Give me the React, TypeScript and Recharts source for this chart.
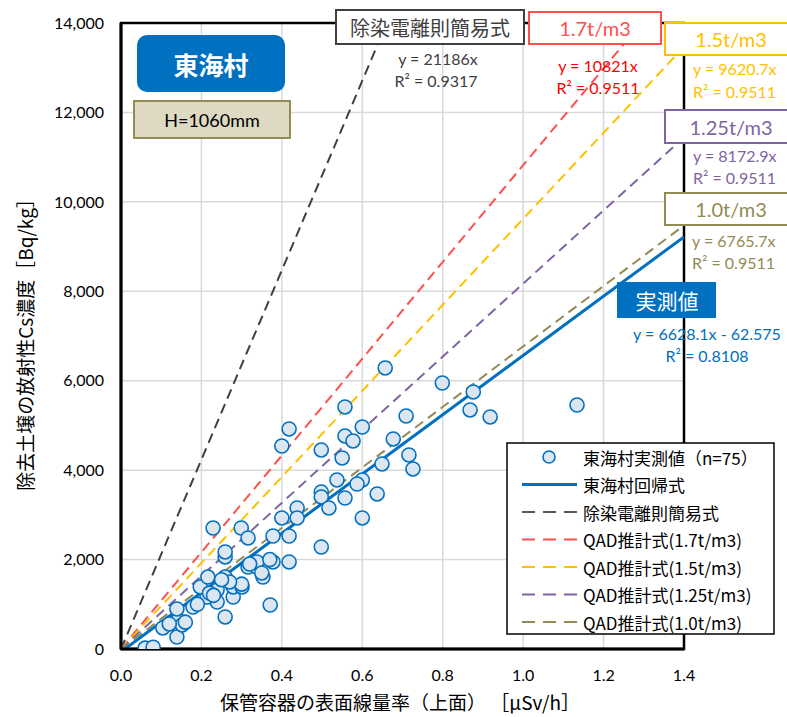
import React from 'react';
import { ComposedChart, Scatter, Line, XAxis, YAxis, CartesianGrid, ReferenceArea } from 'recharts';

const xTicks = [0, 0.2, 0.4, 0.6, 0.8, 1.0, 1.2, 1.4];
const yTicks = [0, 2000, 4000, 6000, 8000, 10000, 12000, 14000];

// 東海村実測値 (x: µSv/h, y: Bq/kg)
const measuredX = [
  0.06, 0.08, 0.104, 0.139, 0.142, 0.152, 0.139, 0.179, 0.259, 0.239,
  0.279, 0.239, 0.214, 0.197, 0.216, 0.259, 0.279, 0.301, 0.316, 0.338,
  0.353, 0.371, 0.338, 0.378, 0.418, 0.259, 0.259, 0.229, 0.299, 0.316,
  0.378, 0.418, 0.4, 0.438, 0.438, 0.498, 0.4, 0.418, 0.498, 0.498,
  0.498, 0.517, 0.537, 0.557, 0.557, 0.557, 0.55, 0.657, 0.799, 0.876,
  0.868, 0.918, 1.134, 0.709, 0.6, 0.577, 0.677, 0.716, 0.726, 0.649,
  0.6, 0.587, 0.637, 0.6, 0.16, 0.22, 0.3, 0.35, 0.27, 0.19,
  0.23, 0.32, 0.12, 0.25, 0.37,
];
const measuredY = [
  20, 40, 470, 268, 649, 537, 895, 939, 716, 1051,
  1163, 1320, 1163, 1387, 1610, 1610, 1387, 1387, 1834, 1834,
  1610, 984, 1946, 1946, 1946, 2058, 2170, 2706, 2706, 2483,
  2527, 2527, 2930, 3154, 2930, 4451, 4540, 4921, 2281, 3512,
  3400, 3154, 3780, 5413, 4764, 3377, 4272, 6285, 5949, 5748,
  5346, 5189, 5457, 5211, 4965, 4652, 4697, 4339, 4026, 4138,
  3780, 3690, 3467, 2930, 600, 1250, 1450, 1700, 1500, 1000,
  1200, 1900, 560, 1550, 2000,
];
const measuredPoints = measuredX.map((x, i) => ({ x, y: measuredY[i] }));

// Trend / estimation lines (end points)
const regressionLine = [{ x: 0.0094, y: 0 }, { x: 1.4, y: 9217 }];
const denriLine = [{ x: 0, y: 0 }, { x: 0.661, y: 14000 }];
const qad17Line = [{ x: 0, y: 0 }, { x: 1.294, y: 14000 }];
const qad15Line = [{ x: 0, y: 0 }, { x: 1.4, y: 13469 }];
const qad125Line = [{ x: 0, y: 0 }, { x: 1.4, y: 11442 }];
const qad10Line = [{ x: 0, y: 0 }, { x: 1.4, y: 9472 }];

const BLUE = '#0070c0';
const GRAY = '#404040';
const RED = '#ff5050';
const ORANGE = '#ffc000';
const PURPLE = '#8064a2';
const OLIVE = '#948a54';

const legendItems = [
  { label: '東海村実測値（n=75）', kind: 'marker', color: BLUE },
  { label: '東海村回帰式', kind: 'solid', color: BLUE },
  { label: '除染電離則簡易式', kind: 'dash', color: '#595959' },
  { label: 'QAD推計式(1.7t/m3)', kind: 'dash', color: RED },
  { label: 'QAD推計式(1.5t/m3)', kind: 'dash', color: ORANGE },
  { label: 'QAD推計式(1.25t/m3)', kind: 'dash', color: PURPLE },
  { label: 'QAD推計式(1.0t/m3)', kind: 'dash', color: OLIVE },
];

const NUM_FONT = 'Lato, "Liberation Sans", sans-serif';
const JP_FONT = '"Noto Sans CJK JP", "Noto Sans", sans-serif';

const Dot = (props: any) => {
  const { cx, cy } = props;
  if (cx == null || cy == null) return null;
  return <circle cx={cx} cy={cy} r={7} fill="#dce6f2" stroke={BLUE} strokeWidth={1.6} />;
};

const Overlay = () => (
  <svg width={787} height={717} style={{ position: 'absolute', left: 0, top: 0, pointerEvents: 'none' }}>
    {/* axis titles */}
    <text x={400} y={701} textAnchor="middle" dominantBaseline="central" fontFamily={JP_FONT} fontSize={19} fill="#000">
      保管容器の表面線量率（上面） ［µSv/h］
    </text>
    <text x={24} y={340} textAnchor="middle" dominantBaseline="central" fontFamily={JP_FONT} fontSize={19} fill="#000" transform="rotate(-90 24 340)">
      除去土壌の放射性Cs濃度［Bq/kg］
    </text>

    {/* 東海村 */}
    <rect x={137} y={35} width={148} height={57} rx={10} fill={BLUE} />
    <text x={211} y={64} textAnchor="middle" dominantBaseline="central" fontFamily={JP_FONT} fontSize={25} fontWeight="bold" fill="#fff">東海村</text>
    <rect x={134} y={101} width={156} height={37} fill="#ddd9c3" stroke={OLIVE} strokeWidth={2} />
    <text x={212} y={120} textAnchor="middle" dominantBaseline="central" fontFamily={NUM_FONT} fontSize={18} fill="#000">H=1060mm</text>

    {/* 除染電離則簡易式 */}
    <rect x={336} y={10} width={188} height={34} fill="#fff" stroke={GRAY} strokeWidth={2} />
    <text x={430} y={27} textAnchor="middle" dominantBaseline="central" fontFamily={JP_FONT} fontSize={20} fill={GRAY}>除染電離則簡易式</text>
    <text x={438} y={58} textAnchor="middle" dominantBaseline="central" fontFamily={NUM_FONT} fontSize={16} fill={GRAY}>y = 21186x</text>
    <text x={436} y={80} textAnchor="middle" dominantBaseline="central" fontFamily={NUM_FONT} fontSize={16} fill={GRAY}>R² = 0.9317</text>

    {/* 1.7 */}
    <rect x={529} y={12} width={132} height={32} fill="#fff" stroke={RED} strokeWidth={2} />
    <text x={595} y={28} textAnchor="middle" dominantBaseline="central" fontFamily={NUM_FONT} fontSize={20} fill={RED}>1.7t/m3</text>
    <text x={598} y={65} textAnchor="middle" dominantBaseline="central" fontFamily={NUM_FONT} fontSize={16} fill="#ff0000">y = 10821x</text>
    <text x={598} y={87} textAnchor="middle" dominantBaseline="central" fontFamily={NUM_FONT} fontSize={16} fill="#ff0000">R² = 0.9511</text>

    {/* 1.5 */}
    <rect x={665} y={23} width={140} height={32} fill="#fff" stroke={ORANGE} strokeWidth={2} />
    <text x={731} y={39} textAnchor="middle" dominantBaseline="central" fontFamily={NUM_FONT} fontSize={20} fill={ORANGE}>1.5t/m3</text>
    <text x={693} y={68} dominantBaseline="central" fontFamily={NUM_FONT} fontSize={16} fill={ORANGE}>y = 9620.7x</text>
    <text x={693} y={91} dominantBaseline="central" fontFamily={NUM_FONT} fontSize={16} fill={ORANGE}>R² = 0.9511</text>

    {/* 1.25 */}
    <rect x={665} y={110} width={140} height={33} fill="#fff" stroke={PURPLE} strokeWidth={2} />
    <text x={731} y={127} textAnchor="middle" dominantBaseline="central" fontFamily={NUM_FONT} fontSize={20} fill={PURPLE}>1.25t/m3</text>
    <text x={693} y={155} dominantBaseline="central" fontFamily={NUM_FONT} fontSize={16} fill={PURPLE}>y = 8172.9x</text>
    <text x={693} y={177} dominantBaseline="central" fontFamily={NUM_FONT} fontSize={16} fill={PURPLE}>R² = 0.9511</text>

    {/* 1.0 */}
    <rect x={665} y={193} width={140} height={32} fill="#fff" stroke={OLIVE} strokeWidth={2} />
    <text x={731} y={209} textAnchor="middle" dominantBaseline="central" fontFamily={NUM_FONT} fontSize={20} fill={OLIVE}>1.0t/m3</text>
    <text x={692} y={240} dominantBaseline="central" fontFamily={NUM_FONT} fontSize={16} fill={OLIVE}>y = 6765.7x</text>
    <text x={692} y={262} dominantBaseline="central" fontFamily={NUM_FONT} fontSize={16} fill={OLIVE}>R² = 0.9511</text>

    {/* 実測値 */}
    <rect x={617} y={282} width={99} height={36} fill={BLUE} />
    <text x={667} y={300} textAnchor="middle" dominantBaseline="central" fontFamily={JP_FONT} fontSize={21} fill="#fff">実測値</text>
    <text x={707} y={333} textAnchor="middle" dominantBaseline="central" fontFamily={NUM_FONT} fontSize={16} fill={BLUE}>y = 6628.1x - 62.575</text>
    <text x={707} y={355} textAnchor="middle" dominantBaseline="central" fontFamily={NUM_FONT} fontSize={16} fill={BLUE}>R² = 0.8108</text>

    {/* legend */}
    <rect x={507} y={443} width={267} height={191} fill="#fff" stroke="#000" strokeWidth={1.5} />
    {legendItems.map((it, i) => {
      const cy = 457 + i * 27.5;
      return (
        <g key={it.label}>
          {it.kind === 'marker' && <circle cx={549} cy={cy} r={6} fill="#dce6f2" stroke={it.color} strokeWidth={1.6} />}
          {it.kind === 'solid' && <line x1={522} x2={577} y1={cy} y2={cy} stroke={it.color} strokeWidth={3} />}
          {it.kind === 'dash' && <line x1={522} x2={577} y1={cy} y2={cy} stroke={it.color} strokeWidth={2} strokeDasharray="13 8" />}
          <text x={583} y={cy} dominantBaseline="central" fontFamily={JP_FONT} fontSize={17} fill="#000">{it.label}</text>
        </g>
      );
    })}
  </svg>
);

export default function App() {
  return (
    <div style={{ position: 'absolute', left: 0, top: 0, width: 787, height: 717, background: '#fff' }}>
      <ComposedChart width={787} height={717} margin={{ top: 23, right: 103, bottom: 0, left: 0 }}>
        <CartesianGrid stroke="#d9d9d9" strokeWidth={1.5} />
        <XAxis
          type="number"
          dataKey="x"
          domain={[0, 1.4]}
          ticks={xTicks}
          height={68}
          tickFormatter={(v: number) => v.toFixed(1)}
          tick={{ fill: '#000', fontSize: 16, fontFamily: NUM_FONT }}
          tickLine={false}
          tickSize={8}
          tickMargin={13}
          axisLine={{ stroke: '#000', strokeWidth: 3 }}
          allowDataOverflow
        />
        <YAxis
          type="number"
          dataKey="y"
          domain={[0, 14000]}
          ticks={yTicks}
          width={121}
          tickFormatter={(v: number) => v.toLocaleString('en-US')}
          tick={{ fill: '#000', fontSize: 16, fontFamily: NUM_FONT }}
          tickLine={false}
          tickSize={5}
          tickMargin={12}
          axisLine={{ stroke: '#000', strokeWidth: 3 }}
          allowDataOverflow
        />
        <ReferenceArea x1={0} x2={1.4} y1={0} y2={14000} fill="none" stroke="#000" strokeWidth={2.5} fillOpacity={0} ifOverflow="visible" />
        <Scatter data={measuredPoints} dataKey="y" shape={Dot} isAnimationActive={false} />
        <Line data={denriLine} dataKey="y" stroke={GRAY} strokeWidth={2} strokeDasharray="10 6" dot={false} activeDot={false} isAnimationActive={false} />
        <Line data={qad17Line} dataKey="y" stroke={RED} strokeWidth={2} strokeDasharray="10 6" dot={false} activeDot={false} isAnimationActive={false} />
        <Line data={qad15Line} dataKey="y" stroke={ORANGE} strokeWidth={2} strokeDasharray="10 6" dot={false} activeDot={false} isAnimationActive={false} />
        <Line data={qad125Line} dataKey="y" stroke={PURPLE} strokeWidth={2} strokeDasharray="10 6" dot={false} activeDot={false} isAnimationActive={false} />
        <Line data={qad10Line} dataKey="y" stroke={OLIVE} strokeWidth={2} strokeDasharray="10 6" dot={false} activeDot={false} isAnimationActive={false} />
        <Line data={regressionLine} dataKey="y" stroke={BLUE} strokeWidth={3} dot={false} activeDot={false} isAnimationActive={false} />
      </ComposedChart>
      <Overlay />
    </div>
  );
}
